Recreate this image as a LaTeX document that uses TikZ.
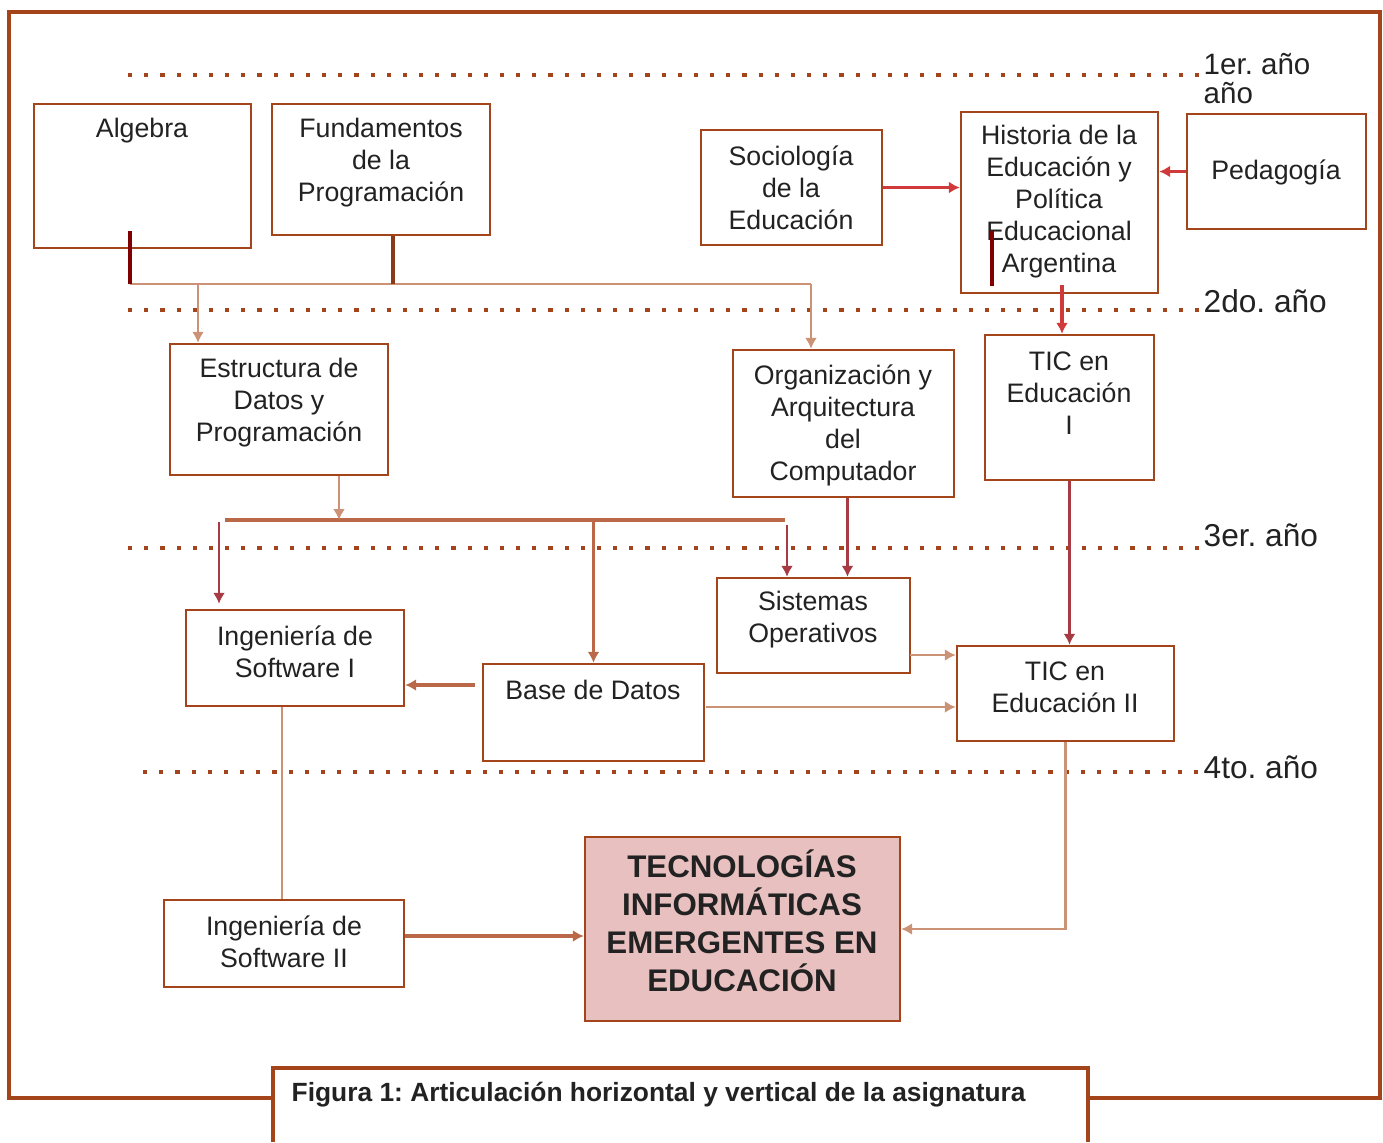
\documentclass[tikz,border=0pt]{standalone}
\usepackage{fontspec}
\setmainfont{Liberation Sans}
\usetikzlibrary{calc,arrows.meta}

\definecolor{frame}{RGB}{163,68,26}
\definecolor{clite}{RGB}{204,146,118}
\definecolor{cmid}{RGB}{186,104,72}
\definecolor{cwine}{RGB}{168,58,68}
\definecolor{deep}{RGB}{128,0,0}
\definecolor{redish}{RGB}{208,58,58}
\definecolor{rosy}{RGB}{233,192,192}
\definecolor{ink}{RGB}{34,34,34}

\begin{document}
\frenchspacing
\begin{tikzpicture}[
  box/.style={draw=frame, line width=0.7pt, fill=white, inner sep=0pt},
  txt/.style={align=center, inner sep=0pt, text=ink, font=\fontsize{7.6}{9.1}\selectfont},
  year/.style={anchor=west, inner sep=0pt, text=ink, font=\fontsize{9}{10}\selectfont},
  level/.style={frame, line width=1.2pt, dash pattern=on 1.2pt off 3.4pt},
  tip/.style={-{Latex[length=1.1mm,width=1.2mm]}},
  liteline/.style={clite, line width=0.8pt},
  midline/.style={cmid, line width=1pt},
  wineline/.style={cwine, line width=0.8pt},
  redarr/.style={redish, line width=0.9pt, tip},
  stub/.style={deep, line width=1.2pt}
]
\useasboundingbox (0,0) rectangle (13.83,-11.42);

% outer frame, broken by the caption box
\draw[frame, line width=1.1pt] (2.73,-10.98) -- (0.09,-10.98) -- (0.09,-0.12) -- (13.80,-0.12) -- (13.80,-10.98) -- (10.88,-10.98);
\draw[frame, line width=1.1pt] (2.73,-11.42) -- (2.73,-10.68) -- (10.88,-10.68) -- (10.88,-11.42);
\node[anchor=west, inner sep=0pt, text=ink, font=\fontsize{7.5}{9}\selectfont\bfseries] (cap) at (2.91,-10.95) {Figura 1: Articulación horizontal y vertical de la asignatura};

% year levels
\draw[level] (1.28,-0.75) -- (12.05,-0.75);
\draw[level] (1.28,-3.10) -- (12.05,-3.10);
\draw[level] (1.28,-5.48) -- (12.05,-5.48);
\draw[level] (1.43,-7.72) -- (12.05,-7.72);
\node[year, align=left, font=\fontsize{8.4}{8.3}\selectfont] (y1) at (12.03,-0.785) {1er. año\\año};
\node[year] (y2) at (12.03,-3.01) {2do. año};
\node[year] (y3) at (12.03,-5.35) {3er. año};
\node[year] (y4) at (12.03,-7.67) {4to. año};

% boxes
\node[box, minimum width=2.17cm, minimum height=1.44cm] (alg) at (1.425,-1.76) {};
\node[box, minimum width=2.18cm, minimum height=1.31cm] (fund) at (3.81,-1.695) {};
\node[box, minimum width=1.81cm, minimum height=1.15cm] (soc) at (7.915,-1.875) {};
\node[box, minimum width=1.97cm, minimum height=1.81cm] (hist) at (10.595,-2.025) {};
\node[box, minimum width=1.79cm, minimum height=1.15cm] (ped) at (12.765,-1.715) {};
\node[box, minimum width=2.18cm, minimum height=1.31cm] (edp) at (2.79,-4.095) {};
\node[box, minimum width=2.21cm, minimum height=1.47cm] (oac) at (8.435,-4.235) {};
\node[box, minimum width=1.69cm, minimum height=1.45cm] (tic1) at (10.695,-4.075) {};
\node[box, minimum width=1.93cm, minimum height=0.95cm] (so) at (8.135,-6.255) {};
\node[box, minimum width=2.18cm, minimum height=0.96cm] (is1) at (2.95,-6.58) {};
\node[box, minimum width=2.21cm, minimum height=0.97cm] (bd) at (5.935,-7.125) {};
\node[box, minimum width=2.17cm, minimum height=0.95cm] (tic2) at (10.655,-6.935) {};
\node[box, fill=rosy, minimum width=3.15cm, minimum height=1.84cm] (tec) at (7.425,-9.29) {};
\node[box, minimum width=2.40cm, minimum height=0.87cm] (is2) at (2.84,-9.435) {};

% box texts
\node[txt] (algt) at (1.42,-1.31) {Algebra};
\node[txt] (fundt) at (3.81,-1.63) {Fundamentos\\de la\\Programación};
\node[txt] (soct) at (7.91,-1.88) {Sociología\\de la\\Educación};
\node[txt] (histt) at (10.59,-2.02) {Historia de la\\Educación y\\Política\\Educacional\\Argentina};
\node[txt] (pedt) at (12.76,-1.72) {Pedagogía};
\node[txt] (edpt) at (2.79,-4.03) {Estructura de\\Datos y\\Programación};
\node[txt] (oact) at (8.43,-4.25) {Organización y\\Arquitectura\\del\\Computador};
\node[txt] (tic1t) at (10.69,-3.93) {TIC en\\Educación\\I};
\node[txt] (sot) at (8.13,-6.20) {Sistemas\\Operativos};
\node[txt] (is1t) at (2.95,-6.52) {Ingeniería de\\Software I};
\node[txt] (bdt) at (5.93,-6.90) {Base de Datos};
\node[txt] (tic2t) at (10.65,-6.87) {TIC en\\Educación II};
\node[txt] (is2t) at (2.84,-9.42) {Ingeniería de\\Software II};
\node[txt, font=\fontsize{8.9}{10.8}\selectfont\bfseries] (tect) at (7.42,-9.21) {TECNOLOGÍAS\\INFORMÁTICAS\\EMERGENTES EN\\EDUCACIÓN};

% first year links
\coordinate (r1a) at (1.30,-2.84);
\coordinate (r1b) at (3.93,-2.84);
\coordinate (r1c) at (1.98,-2.84);
\coordinate (r1d) at (8.11,-2.84);
\draw[liteline] (r1a) -- (r1d);
\draw[liteline, tip] (r1d) -- (r1d |- oac.north);
\draw[liteline, tip] (r1c) -- (r1c |- edp.north);
\draw[stub] ($(alg.south -| r1a)+(0,0.18)$) -- (r1a);
\draw[stub, frame!85!black] (fund.south -| r1b) -- (r1b);
\draw[stub] ($(hist.south west)+(0.32,0.63)$) -- ++(0,-0.55);
\draw[redarr] (soc.east) -- (soc.east -| hist.west);
\draw[redarr] (ped.west) -- (ped.west -| hist.east);
\coordinate (h1) at (10.62,-2.85);
\draw[redarr] (h1) -- (h1 |- tic1.north);

% second year links
\coordinate (r2a) at (2.25,-5.20);
\coordinate (r2e) at (7.85,-5.20);
\coordinate (r2x) at (2.19,-5.22);
\coordinate (r2s) at (7.87,-5.25);
\coordinate (e1) at ($(edp.south)+(0.60,0)$);
\coordinate (o1) at ($(oac.south)+(0.04,0)$);
\draw[midline] (r2a) -- (r2e);
\draw[liteline, tip] (e1) -- (e1 |- r2a);
\draw[wineline, tip, shorten >=0.05cm] (r2x) -- (r2x |- is1.north);
\draw[midline, line width=0.8pt, tip] (bd.north |- r2a) -- (bd.north);
\draw[wineline, tip] (r2s) -- (r2s |- so.north);
\draw[wineline, tip] (o1) -- (o1 |- so.north);
\draw[wineline, tip] (tic1.south) -- (tic1.south |- tic2.north);

% third year links
\coordinate (bdl) at (4.75,-6.85);
\coordinate (soe) at (9.10,-6.55);
\coordinate (bde) at (7.06,-7.07);
\draw[midline, tip] (bdl) -- (bdl -| is1.east);
\draw[liteline, tip] (soe) -- (soe -| tic2.west);
\draw[liteline, tip] (bde) -- (bde -| tic2.west);

% fourth year links
\coordinate (s1) at ($(is1.south)+(-0.13,0)$);
\coordinate (s2) at ($(is2.east)+(0,0.075)$);
\draw[liteline] (s1) -- (s1 |- is2.north);
\draw[midline, tip] (s2) -- (s2 -| tec.west);
\draw[liteline, tip] (tic2.south) -- (tic2.south |- tec.east) -- (tec.east);
\end{tikzpicture}
\end{document}
